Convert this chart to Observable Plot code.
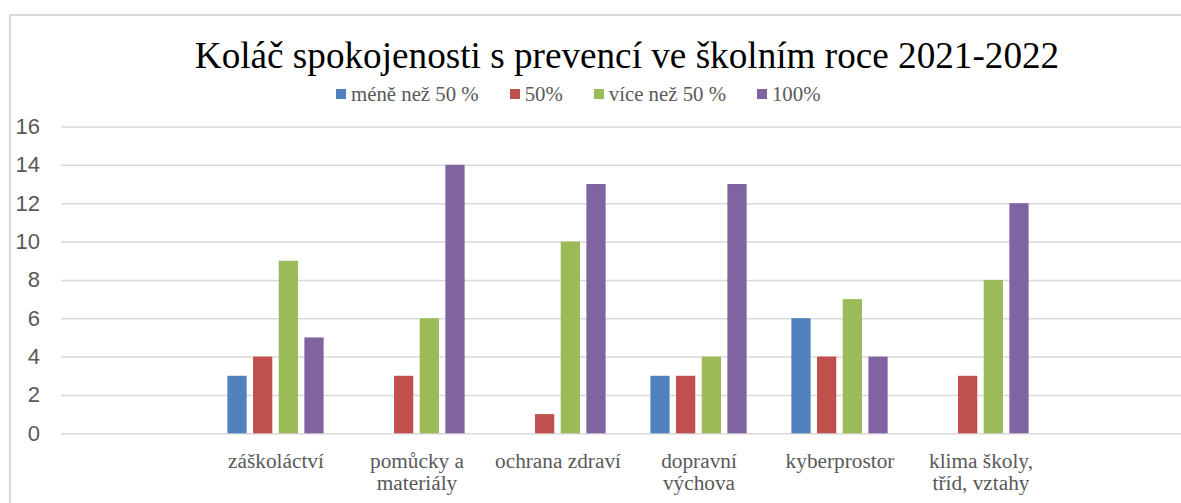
<!DOCTYPE html>
<html>
<head>
<meta charset="utf-8">
<script src="https://cdn.jsdelivr.net/npm/d3@7"></script>
<script src="https://cdn.jsdelivr.net/npm/@observablehq/plot@0.6"></script>
<style>
  html, body { margin: 0; padding: 0; background: #fff; overflow: hidden; }
  #wrap { position: relative; width: 1195px; height: 503px; }
  #frame { position: absolute; left: 9px; top: 14px; width: 2000px; height: 1000px;
           border-left: 2px solid #d9d9d9; border-top: 2px solid #d9d9d9; box-sizing: border-box; }
  #head { position: relative; height: 110px; }
  #title { position: absolute; left: 0; width: 1254px; top: 37px; text-align: center;
           font-family: "Liberation Serif", "Times New Roman", serif; font-size: 37.2px; line-height: 1; color: #000; white-space: nowrap; }
  #legend { position: absolute; left: 336px; top: 83.5px; display: flex; gap: 31px;
            font-family: "Liberation Serif", "Times New Roman", serif; font-size: 20.8px; line-height: 1; color: #595959; white-space: nowrap; }
  .item { display: flex; align-items: flex-start; }
  .sw { width: 10px; height: 10px; margin-top: 5.8px; margin-right: 5px; }
  #chart { position: relative; }
  #chart svg { display: block; }
</style>
</head>
<body>
<div id="wrap">
  <div id="frame"></div>
  <div id="head">
    <div id="title"></div>
    <div id="legend"></div>
  </div>
  <div id="chart"></div>
</div>
<script>
const title = "Koláč spokojenosti s prevencí ve školním roce 2021-2022";
const categories = ["záškoláctví", "pomůcky a materiály", "ochrana zdraví", "dopravní výchova", "kyberprostor", "klima školy, tříd, vztahy"];
const categoryLabels = ["záškoláctví", "pomůcky a\nmateriály", "ochrana zdraví", "dopravní\nvýchova", "kyberprostor", "klima školy,\ntříd, vztahy"];
const seriesNames = ["méně než 50 %", "50%", "více než 50 %", "100%"];
const seriesColors = ["#4F81BD", "#C0504D", "#9BBB59", "#8064A2"];
const lessThanHalf = [3, null, null, 3, 6, null];
const half = [4, 3, 1, 3, 4, 3];
const moreThanHalf = [9, 6, 10, 4, 7, 8];
const full = [5, 14, 13, 13, 4, 12];
const yTicks = [0, 2, 4, 6, 8, 10, 12, 14, 16];

// empty slots before and after the categories (as in the original chart)
const xDomain = ["\u200b0", ...categories, "\u200b1"];

document.getElementById("title").textContent = title;
const legend = document.getElementById("legend");
seriesNames.forEach((name, i) => {
  const item = document.createElement("div");
  item.className = "item";
  const sw = document.createElement("div");
  sw.className = "sw";
  sw.style.background = seriesColors[i];
  const t = document.createElement("span");
  t.textContent = name;
  item.appendChild(sw);
  item.appendChild(t);
  legend.appendChild(item);
});

const seriesValues = [lessThanHalf, half, moreThanHalf, full];
const seriesOffsets = [-38.5, -12.85, 12.85, 38.5];
const barWidth = 20;
const width = 1195, marginLeft = 61, marginRight = 0;
const step = (width - marginLeft - marginRight) / xDomain.length;
const inset = (step - barWidth) / 2;

const barMarks = seriesValues.map((vals, i) => {
  const rows = categories.map((c, j) => ({category: c, value: vals[j]})).filter(d => d.value != null);
  return Plot.barY(rows, {
    x: "category", y1: () => 0, y2: "value",
    fill: seriesColors[i], insetLeft: inset, insetRight: inset, dx: seriesOffsets[i]
  });
});

const chart = Plot.plot({
  width, height: 393,
  marginLeft, marginRight, marginTop: 16.5, marginBottom: 69.7,
  style: {color: "#595959", background: "transparent", overflow: "visible"},
  x: {type: "band", domain: xDomain, padding: 0, axis: null},
  y: {domain: [0, 16], axis: null},
  marks: [
    Plot.ruleY(yTicks, {stroke: "#d9d9d9", strokeWidth: 1.5}),
    ...barMarks,
    Plot.axisY(yTicks, {tickSize: 0, tickPadding: 21.5, fontSize: 22, fontFamily: "'Liberation Sans', Arial, sans-serif", label: null, tickFormat: d => String(d)}),
    Plot.text(categories, {
      x: d => d, text: (d, i) => categoryLabels[i],
      frameAnchor: "bottom", lineAnchor: "top", dy: 18.3, lineHeight: 1.04,
      fontSize: 21.3, fontFamily: "'Liberation Serif', 'Times New Roman', serif", fill: "#595959"
    })
  ]
});
document.getElementById("chart").appendChild(chart);
</script>
</body>
</html>
